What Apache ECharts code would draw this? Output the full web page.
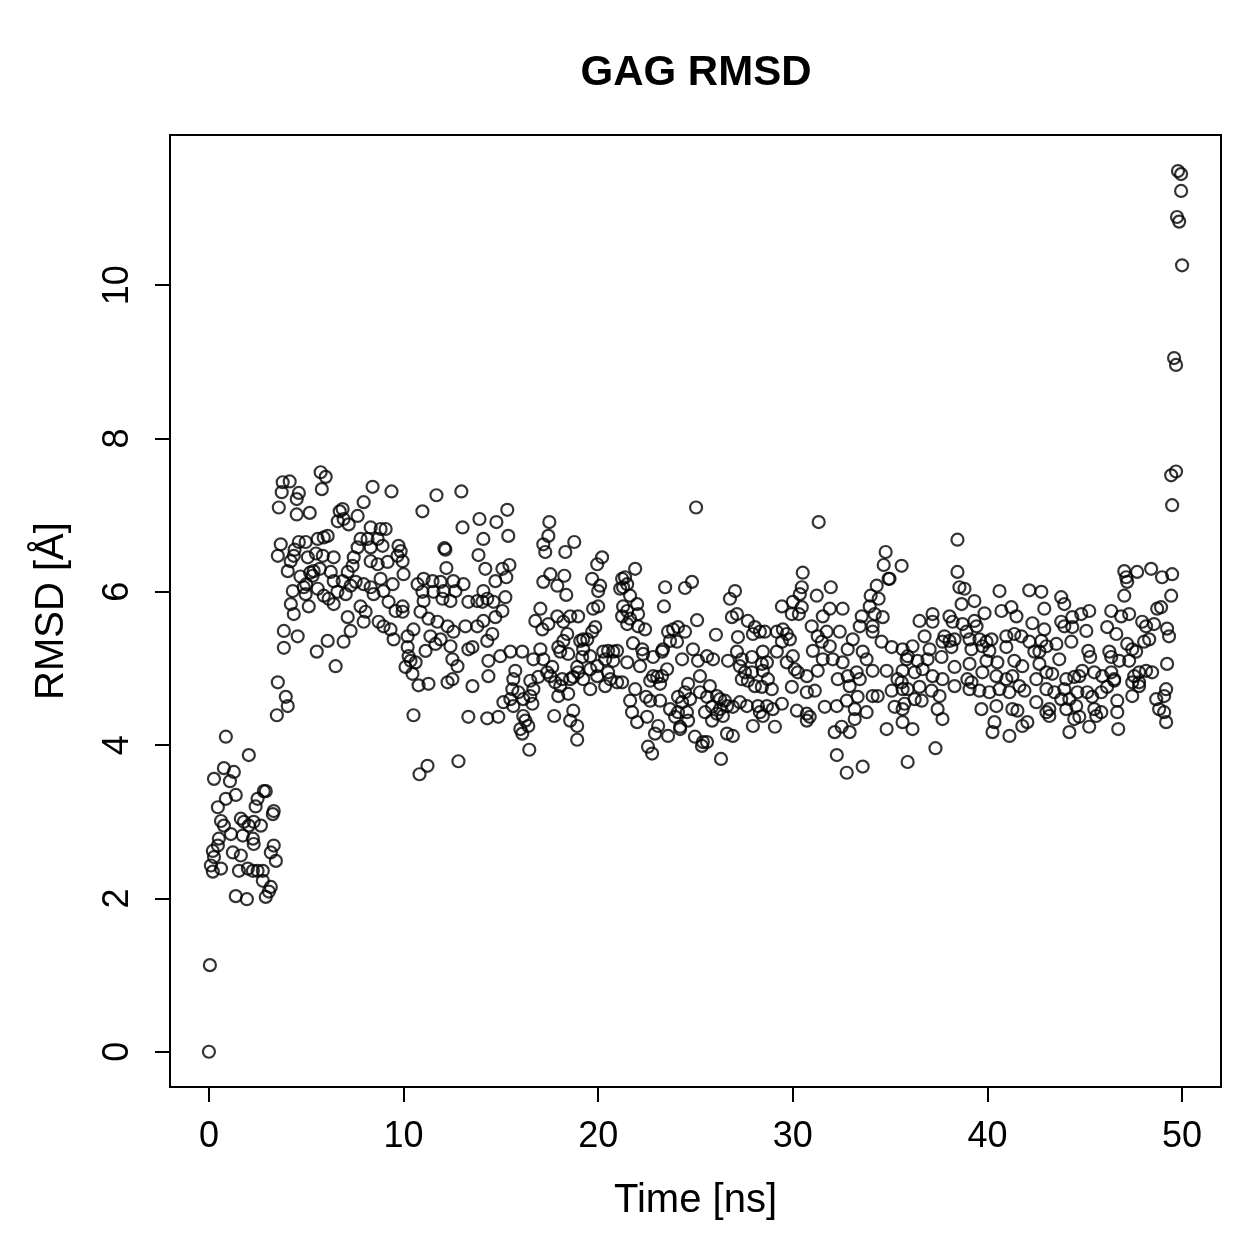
<!DOCTYPE html>
<html>
<head>
<meta charset="utf-8">
<title>GAG RMSD</title>
<script src="https://cdn.jsdelivr.net/npm/echarts@6/dist/echarts.min.js"></script>
<style>
  html, body { margin: 0; padding: 0; background: #fff; }
  #main { width: 1259px; height: 1259px; }
</style>
</head>
<body>
<div id="main"></div>
<script>
// [time (ns), RMSD (Å)]
var startup = [
  [0,0],[0.05,1.13],
  [0.87,4.11],[2.05,3.87],[0.26,3.56],[0.77,3.70],[1.28,3.65],[1.08,3.53],[2.92,3.40],[2.82,3.40],[0.46,3.19],[0.87,3.30],
  [1.38,3.35],[2.5,3.30],[2.4,3.2],[3.33,3.14],[3.28,3.1],[0.62,3.01],[0.77,2.95],[1.64,3.04],[1.8,3.0],[2.05,2.95],[2.3,3.0],
  [2.67,2.95],[1.74,2.82],[2.26,2.78],[2.3,2.71],[0.51,2.78],[0.46,2.69],[1.13,2.84],[3.33,2.69],[3.18,2.6],[3.44,2.49],
  [0.2,2.62],[0.26,2.54],[0.1,2.43],[0.2,2.35],[0.62,2.39],[1.23,2.6],[1.64,2.56],[1.54,2.36],[2.0,2.39],[2.26,2.36],[2.5,2.36],
  [2.77,2.36],[2.77,2.23],[3.18,2.15],[3.08,2.09],[2.92,2.02],[1.38,2.03],[1.95,1.99]
];

var rise = [
  [5.74,7.56],[6.0,7.5],[5.8,7.34],[3.79,7.43],[4.15,7.44],[3.74,7.3],[4.62,7.29],[4.51,7.21],[3.59,7.1],[4.51,7.01],[5.18,7.03],
  [6.72,7.05],[6.62,6.92],[3.69,6.62],[3.54,6.47],[4.05,6.27],[4.62,6.65],[4.97,6.65],[5.59,6.69],[5.9,6.71],[6.1,6.73],
  [4.36,6.47],[5.08,6.45],[5.85,6.47],[6.41,6.45],[5.38,6.27],[5.33,6.21],[6.26,6.26],[6.41,6.14],[4.31,6.01],[4.87,6.06],
  [5.59,6.04],[4.97,5.97],[6.15,5.91],[4.21,5.84],[4.36,5.71],[5.13,5.81],[6.41,5.84],[3.85,5.49],[4.56,5.42],[3.85,5.27],
  [6.1,5.36],[5.54,5.22],[6.51,5.03],[3.54,4.82],[3.95,4.63],[4.05,4.51],[3.49,4.39],
  [4.4,6.55],[4.7,6.2],[5.2,6.25],[5.5,6.5],[5.0,6.1],[5.9,5.95],[4.2,6.4],[5.7,6.3],[6.6,6.0]
];

var plateau1 = [
  [8.41,7.37],[9.38,7.31],[7.95,7.17],[11.69,7.26],[12.97,7.31],[10.97,7.05],[13.03,6.84],[13.9,6.95],[6.87,7.08],[6.92,6.95],
  [7.18,6.88],[7.64,6.99],[8.31,6.84],[8.82,6.82],[9.08,6.82],[7.79,6.69],[8.15,6.69],[8.67,6.69],[7.64,6.58],[8.31,6.58],
  [8.92,6.6],[9.74,6.6],[9.85,6.53],[9.69,6.47],[9.95,6.4],[12.1,6.57],[12.15,6.55],[14.1,6.69],[7.44,6.45],[7.38,6.34],
  [7.13,6.26],[8.31,6.4],[8.67,6.36],[9.18,6.39],[10.0,6.23],[12.2,6.31],[13.85,6.48],[14.2,6.3],[6.87,6.14],[7.03,5.97],
  [7.28,6.08],[7.54,6.13],[7.95,6.1],[8.31,6.06],[8.82,6.17],[9.44,6.1],[8.97,6.01],[8.46,5.97],[7.79,5.81],[8.05,5.74],
  [7.95,5.61],[9.23,5.87],[9.59,5.75],[9.95,5.81],[9.95,5.74],[7.13,5.67],[7.28,5.49],[6.92,5.35],[8.72,5.61],[8.97,5.55],
  [9.33,5.51],[9.49,5.38],[10.72,6.1],[11.03,6.17],[11.49,6.14],[11.9,6.13],[12.56,6.14],[13.08,6.1],[10.97,6.0],[11.54,6.0],
  [12.05,6.01],[12.67,6.01],[13.33,5.87],[13.79,5.88],[14.3,5.91],[11.03,5.88],[12.0,5.91],[12.41,5.88],[10.87,5.74],[11.28,5.65],
  [11.74,5.61],[12.26,5.55],[12.56,5.48],[13.18,5.55],[13.79,5.55],[14.1,5.62],[10.21,5.42],[10.51,5.51],[10.21,5.28],[11.38,5.42],
  [11.9,5.38],[12.41,5.29],[14.3,5.36],[10.26,5.16],[10.36,5.1],[10.1,5.02],[10.62,5.08],[10.46,4.93],[11.13,5.23],[11.64,5.32],
  [12.51,5.12],[12.77,5.03],[13.33,5.25],[13.54,5.28],[14.36,5.1],[14.36,4.9],[10.77,4.78],[11.28,4.8],[12.26,4.82],[12.51,4.86],
  [13.54,4.77],[10.51,4.39],[13.33,4.37],[14.3,4.35],[11.23,3.73],[10.82,3.62],[12.82,3.79]
];

var plateau2 = [
  [15.33,7.07],[14.77,6.91],[15.38,6.73],[17.49,6.91],[17.44,6.73],[17.18,6.62],[17.28,6.52],[18.77,6.65],[18.31,6.52],
  [15.08,6.3],[15.44,6.35],[14.72,6.14],[15.28,6.19],[17.54,6.23],[18.26,6.21],[17.18,6.13],[17.9,6.08],[18.36,5.96],[20.2,6.45],
  [19.95,6.36],[19.69,6.17],[20.1,6.08],[20.0,6.01],[21.38,6.19],[21.13,6.04],[21.49,6.1],[21.64,5.95],[14.1,6.01],[14.05,5.87],
  [14.62,5.87],[15.23,5.93],[15.08,5.75],[14.72,5.67],[17.03,5.78],[16.77,5.62],[17.13,5.51],[17.44,5.58],[17.9,5.68],[18.56,5.68],
  [18.97,5.68],[18.21,5.61],[19.74,5.78],[20.0,5.81],[19.85,5.54],[19.69,5.48],[19.23,5.38],[21.28,5.81],[21.23,5.68],[21.49,5.58],
  [14.56,5.45],[14.97,5.16],[15.49,5.22],[16.1,5.22],[16.67,5.12],[17.03,5.25],[17.18,5.12],[17.95,5.28],[18.21,5.36],[18.41,5.45],
  [18.46,5.19],[18.05,5.22],[19.08,5.36],[19.44,5.38],[19.23,5.25],[19.59,5.16],[19.18,5.15],[20.26,5.22],[20.51,5.23],[20.77,5.22],
  [20.97,5.23],[20.36,5.12],[20.77,5.1],[20.51,4.95],[20.62,4.86],[20.97,4.82],[20.36,4.77],[21.49,5.08],[15.74,4.97],[15.64,4.86],
  [15.59,4.73],[15.49,4.6],[15.13,4.56],[15.9,4.69],[16.51,4.84],[16.92,4.89],[16.67,4.73],[16.51,4.64],[16.15,4.6],[16.62,4.54],
  [17.38,4.95],[17.64,5.02],[17.54,4.9],[17.79,4.82],[18.15,4.86],[18.05,4.77],[18.56,4.86],[18.92,5.02],[18.97,4.95],[19.59,4.99],
  [19.95,5.03],[18.72,4.89],[19.23,4.86],[19.59,4.73],[19.95,4.9],[17.95,4.64],[18.46,4.67],[15.64,4.51],[14.87,4.37],[16.15,4.38],
  [16.26,4.32],[16.0,4.21],[16.1,4.15],[16.41,4.25],[17.74,4.38],[18.72,4.45],[18.56,4.32],[18.92,4.25],[18.92,4.07],[16.46,3.94]
];

var plateau3 = [
  [25.03,7.1],[21.9,6.3],[21.23,6.17],[21.28,6.06],[23.44,6.06],[24.46,6.05],[24.82,6.13],[23.38,5.81],[27.03,6.01],[26.77,5.91],
  [21.49,5.75],[22.0,5.84],[22.05,5.71],[21.64,5.65],[22.05,5.55],[22.41,5.51],[25.08,5.63],[26.05,5.44],[23.59,5.48],[23.85,5.51],
  [24.1,5.54],[24.46,5.48],[23.69,5.36],[24.05,5.35],[26.87,5.67],[27.13,5.71],[27.18,5.41],[27.69,5.62],[28.05,5.54],[28.31,5.48],
  [28.56,5.48],[27.95,5.45],[21.79,5.33],[22.26,5.25],[22.31,5.19],[22.82,5.15],[23.28,5.22],[23.33,5.25],[24.31,5.12],[24.87,5.25],
  [25.13,5.1],[25.59,5.16],[25.9,5.12],[26.67,5.1],[27.13,5.22],[27.38,5.12],[27.9,5.15],[28.46,5.22],[28.67,5.08],[22.15,5.03],
  [21.23,4.82],[21.9,4.73],[22.82,4.9],[23.03,4.89],[23.28,4.9],[23.54,4.99],[22.67,4.84],[23.18,4.8],[24.62,4.8],[24.46,4.69],
  [25.23,4.9],[25.74,4.77],[25.23,4.69],[24.72,4.6],[27.28,5.03],[27.54,4.95],[27.9,4.95],[27.69,4.84],[28.05,4.77],[28.46,4.97],
  [28.72,4.86],[27.38,4.86],[21.64,4.58],[22.46,4.63],[22.67,4.58],[23.18,4.58],[21.74,4.43],[22.0,4.3],[22.51,4.37],[23.69,4.47],
  [24.1,4.63],[24.31,4.56],[24.1,4.43],[23.95,4.37],[24.56,4.43],[24.62,4.32],[24.21,4.24],[25.59,4.63],[26.1,4.64],[26.26,4.6],
  [26.51,4.58],[25.85,4.5],[26.26,4.47],[26.1,4.41],[26.62,4.51],[26.92,4.5],[27.28,4.56],[27.64,4.51],[26.41,4.38],[25.85,4.32],
  [25.49,4.43],[28.21,4.51],[28.31,4.43],[28.46,4.38],[27.95,4.25],[23.08,4.25],[22.92,4.15],[23.59,4.12],[24.21,4.21],[24.97,4.11],
  [25.38,4.04],[25.59,4.04],[25.33,3.99],[26.62,4.15],[26.92,4.12],[22.56,3.98],[22.77,3.89],[26.31,3.82]
];

var plateau4 = [
  [31.33,6.91],[34.77,6.52],[34.67,6.35],[35.59,6.34],[30.51,6.25],[34.97,6.17],[34.92,6.17],[30.46,6.06],[30.36,5.97],[31.95,6.06],
  [31.23,5.95],[34.31,6.08],[34.0,5.95],[34.41,5.91],[29.44,5.81],[30.0,5.87],[30.46,5.8],[30.31,5.71],[29.95,5.71],[31.9,5.78],
  [31.54,5.68],[32.56,5.78],[33.95,5.81],[33.54,5.68],[34.21,5.71],[34.62,5.67],[29.18,5.48],[29.49,5.51],[29.69,5.45],[29.85,5.38],
  [29.44,5.35],[30.97,5.55],[31.28,5.42],[31.74,5.48],[32.41,5.48],[33.08,5.38],[33.44,5.55],[34.1,5.55],[34.56,5.35],[35.08,5.28],
  [34.1,5.48],[29.18,5.22],[30.0,5.16],[31.03,5.23],[31.49,5.35],[31.9,5.29],[32.82,5.25],[33.59,5.22],[33.79,5.12],[35.64,5.25],
  [35.9,5.16],[28.41,5.06],[29.69,5.08],[30.1,4.99],[30.26,4.95],[31.28,4.97],[31.54,5.12],[32.05,5.12],[32.56,5.08],[33.28,4.95],
  [34.1,4.97],[34.82,4.97],[35.38,4.86],[28.41,4.76],[28.92,4.73],[29.95,4.76],[30.72,4.9],[30.72,4.69],[31.13,4.71],[32.31,4.86],
  [32.82,4.9],[32.92,4.77],[33.44,4.86],[35.08,4.71],[35.64,4.73],[28.67,4.51],[28.97,4.47],[29.44,4.54],[30.21,4.45],[30.72,4.41],
  [30.87,4.37],[31.64,4.5],[32.26,4.51],[32.77,4.58],[33.18,4.47],[33.33,4.63],[33.79,4.43],[34.1,4.64],[34.36,4.64],[35.23,4.5],
  [35.74,4.54],[29.08,4.24],[30.72,4.32],[32.15,4.17],[32.51,4.24],[32.92,4.17],[33.18,4.34],[34.82,4.21],[35.64,4.3],[32.26,3.87],
  [32.77,3.64],[33.59,3.72],[35.9,3.78]
];

var plateau5 = [
  [38.46,6.68],[38.46,6.26],[38.56,6.06],[38.82,6.04],[38.67,5.84],[39.33,5.88],[39.85,5.72],[40.62,6.01],[40.72,5.75],[41.23,5.8],
  [41.49,5.68],[42.15,6.02],[42.77,6.0],[42.92,5.78],[42.31,5.59],[42.92,5.51],[36.51,5.62],[37.18,5.71],[37.18,5.61],[38.05,5.68],
  [38.21,5.61],[38.72,5.58],[39.33,5.62],[39.44,5.55],[36.77,5.42],[37.79,5.42],[38.05,5.36],[38.31,5.38],[38.92,5.48],[39.08,5.38],
  [39.59,5.38],[39.95,5.35],[40.21,5.38],[40.97,5.42],[41.38,5.45],[41.74,5.42],[36.15,5.29],[37.03,5.25],[37.69,5.35],[38.15,5.28],
  [39.18,5.25],[39.74,5.29],[40.1,5.23],[40.97,5.28],[42.15,5.35],[42.41,5.22],[42.67,5.22],[43.03,5.29],[35.85,5.12],[36.41,5.1],
  [36.92,5.12],[37.64,5.15],[38.31,5.02],[39.08,5.06],[39.95,5.1],[40.51,5.08],[41.38,5.1],[41.79,5.03],[42.67,5.06],[35.64,4.97],
  [36.26,4.95],[36.67,4.99],[37.18,4.9],[37.69,4.86],[38.31,4.77],[38.97,4.86],[39.18,4.82],[39.74,4.95],[40.46,4.9],[40.97,4.86],
  [41.28,4.9],[41.64,4.77],[42.51,4.86],[43.03,4.95],[35.59,4.82],[35.9,4.73],[36.51,4.76],[37.13,4.71],[37.54,4.64],[39.08,4.73],
  [39.59,4.71],[40.1,4.69],[40.62,4.73],[41.13,4.69],[41.9,4.71],[43.03,4.73],[35.64,4.47],[36.26,4.6],[36.62,4.58],[37.44,4.47],
  [39.69,4.47],[40.46,4.51],[41.28,4.47],[41.54,4.45],[42.51,4.56],[43.03,4.43],[36.15,4.21],[37.69,4.34],[40.36,4.3],[40.26,4.17],
  [41.13,4.12],[41.79,4.25],[42.05,4.3],[37.33,3.96]
];

var plateau6 = [
  [47.03,6.27],[47.13,6.19],[47.69,6.26],[48.41,6.3],[48.97,6.19],[49.49,6.23],[47.18,6.13],[47.03,5.95],[49.44,5.95],[43.79,5.93],
  [43.95,5.84],[44.82,5.71],[45.23,5.75],[46.36,5.75],[46.87,5.68],[47.28,5.71],[48.72,5.78],[48.92,5.8],[43.79,5.61],[43.95,5.55],
  [44.36,5.67],[44.36,5.54],[45.08,5.49],[46.15,5.54],[46.62,5.45],[47.95,5.61],[48.15,5.55],[48.56,5.58],[49.23,5.52],[49.33,5.42],
  [42.77,5.36],[43.54,5.32],[44.31,5.35],[47.18,5.32],[47.44,5.25],[48.05,5.35],[48.31,5.38],[43.69,5.12],[45.18,5.23],[45.28,5.15],
  [46.26,5.22],[46.36,5.15],[46.77,5.1],[47.28,5.1],[47.64,5.22],[49.23,5.06],[43.33,4.93],[44.05,4.86],[44.46,4.89],[44.72,4.9],
  [44.87,4.97],[45.49,4.95],[45.9,4.9],[46.36,4.95],[46.51,4.86],[47.54,4.9],[47.79,4.95],[48.15,4.97],[48.46,4.95],[47.79,4.82],
  [43.44,4.69],[43.95,4.73],[44.21,4.6],[44.62,4.69],[45.13,4.69],[45.38,4.63],[45.85,4.69],[46.15,4.76],[46.51,4.84],[47.44,4.82],
  [47.79,4.77],[43.18,4.47],[43.18,4.38],[43.79,4.6],[44.05,4.47],[44.56,4.51],[45.49,4.47],[45.59,4.38],[45.85,4.43],[46.67,4.58],
  [46.67,4.43],[47.44,4.64],[48.67,4.6],[48.82,4.47],[49.08,4.43],[49.18,4.73],[49.08,4.64],[44.46,4.34],[44.72,4.37],[45.23,4.24],
  [44.21,4.17],[46.72,4.21],[49.18,4.3]
];

var finalJump = [
  [49.79,11.49],[49.95,11.45],[49.95,11.23],[49.74,10.89],[49.85,10.83],[50.0,10.26],[49.59,9.05],[49.69,8.96],
  [49.69,7.57],[49.44,7.52],[49.49,7.13]
];

var xTicks = [0, 10, 20, 30, 40, 50];
var yTicks = [0, 2, 4, 6, 8, 10];

var allPoints = [].concat(startup, rise, plateau1, plateau2, plateau3, plateau4, plateau5, plateau6, finalJump);

var myChart = echarts.init(document.getElementById('main'));
var font = 'Liberation Sans, Arial, Helvetica, sans-serif';

var option = {
  animation: false,
  backgroundColor: '#fff',
  title: {
    text: 'GAG RMSD',
    left: 691,
    top: 47,
    textAlign: 'center',
    textStyle: { fontFamily: font, fontSize: 42, fontWeight: 'bold', color: '#000' }
  },
  grid: {
    left: 170, top: 135, width: 1051, height: 952,
    show: true, borderColor: '#000', borderWidth: 2, backgroundColor: 'transparent'
  },
  xAxis: {
    type: 'value',
    min: -2, max: 52,
    name: 'Time [ns]',
    nameLocation: 'middle',
    nameGap: 94,
    nameTextStyle: { fontFamily: font, fontSize: 40, color: '#000' },
    axisLine: { show: true, onZero: false, lineStyle: { color: '#000', width: 2 } },
    axisTick: { show: true, customValues: xTicks, length: 15, inside: false, lineStyle: { color: '#000', width: 2 } },
    axisLabel: { customValues: xTicks, margin: 32, fontFamily: font, fontSize: 36, color: '#000' },
    splitLine: { show: false }
  },
  yAxis: {
    type: 'value',
    min: -0.46, max: 11.96,
    name: 'RMSD [Å]',
    nameLocation: 'middle',
    nameGap: 98,
    nameTextStyle: { fontFamily: font, fontSize: 40, color: '#000' },
    axisLine: { show: true, onZero: false, lineStyle: { color: '#000', width: 2 } },
    axisTick: { show: true, customValues: yTicks, length: 15, inside: false, lineStyle: { color: '#000', width: 2 } },
    axisLabel: { customValues: yTicks, rotate: 90, margin: 34, fontFamily: font, fontSize: 36, color: '#000' },
    splitLine: { show: false }
  },
  series: [{
    type: 'scatter',
    data: allPoints,
    symbol: 'circle',
    symbolSize: 12,
    itemStyle: { color: 'rgba(0,0,0,0)', borderColor: '#000', borderWidth: 2.2 },
    emphasis: { disabled: true }
  }]
};

myChart.setOption(option);
</script>
</body>
</html>
